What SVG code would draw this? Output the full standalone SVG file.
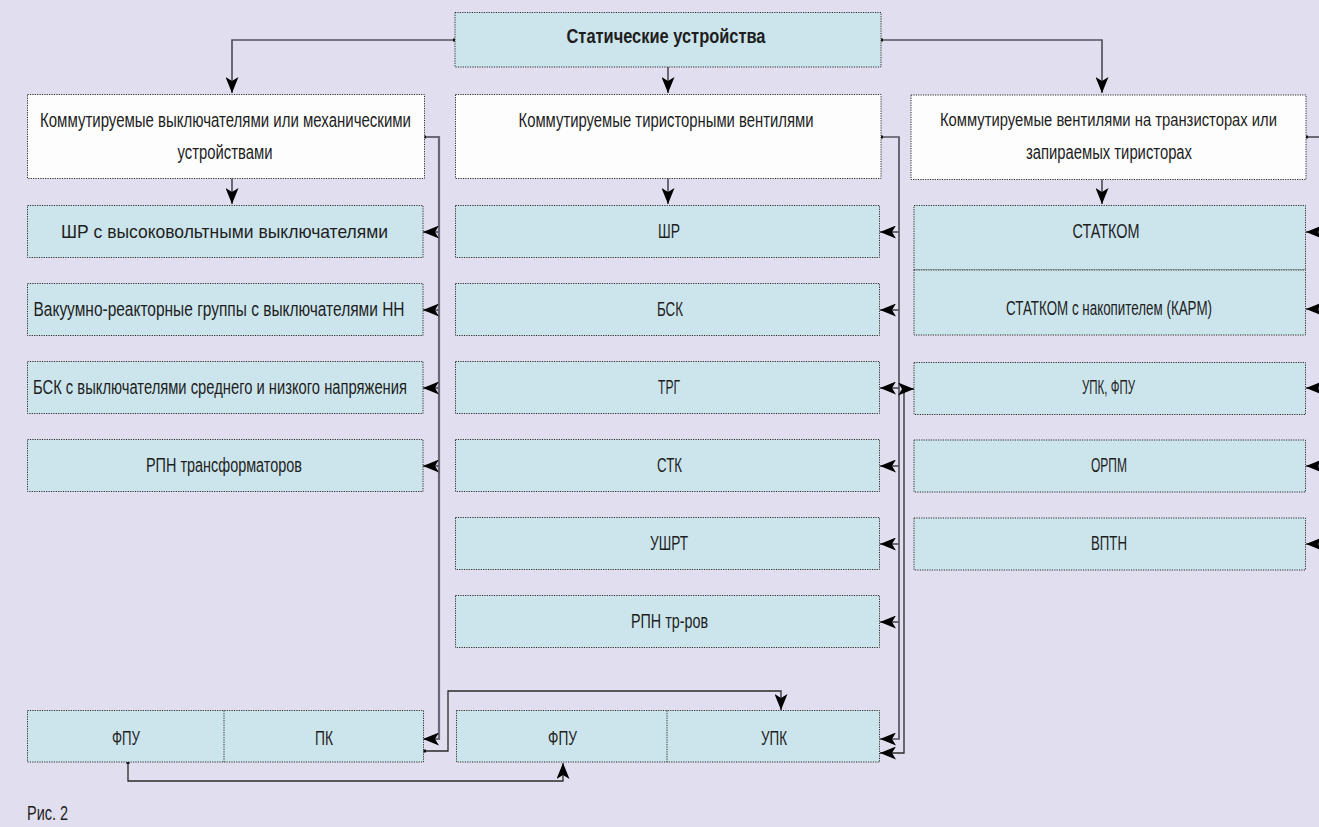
<svg xmlns="http://www.w3.org/2000/svg" width="1319" height="827" viewBox="0 0 1319 827">
<style>
.bg{fill:#e1deef}
.box{fill:#cce5ec;stroke:#2a2a2a;stroke-width:1;stroke-dasharray:1.2 1.2}
.wbox{fill:#fdfdfd;stroke:#2a2a2a;stroke-width:1;stroke-dasharray:1.2 1.2}
.div{stroke:#2a2a2a;stroke-width:1;stroke-dasharray:1.2 1.2;fill:none}
text{font-family:"Liberation Sans","DejaVu Sans",sans-serif;font-size:20px;fill:#1e1e1e;text-anchor:middle;dominant-baseline:central}
.b{font-weight:bold;font-size:21px}
.s{font-size:17.5px}
.g{fill:none;stroke:#55535f;stroke-width:1.7}
.gt{fill:none;stroke:#6a6876;stroke-width:2.2}
.k{fill:none;stroke:#2a2a2a;stroke-width:1.3}
.dot{fill:#111}
</style>
<defs>
<marker id="arr" viewBox="0 0 16 13" refX="16" refY="6.5" markerWidth="16" markerHeight="13" markerUnits="userSpaceOnUse" orient="auto-start-reverse">
<path d="M0,0 L16,6.5 L0,13 L4,6.5 z" fill="#000"/>
</marker>
</defs>
<rect class="bg" x="0" y="0" width="1319" height="827"/>

<g id="connectors">
<path class="g" d="M455,40 H232 V93" marker-end="url(#arr)"/>
<path class="g" d="M668,67 V93" marker-end="url(#arr)"/>
<path class="g" d="M881,40 H1102 V93" marker-end="url(#arr)"/>
<path class="g" d="M232,178 V204" marker-end="url(#arr)"/>
<path class="g" d="M668,178 V204" marker-end="url(#arr)"/>
<path class="g" d="M1102,179 V204" marker-end="url(#arr)"/>
<path class="gt" d="M424,137 H439 V739 H423" marker-end="url(#arr)"/>
<path class="gt" d="M439,232 H423" marker-end="url(#arr)"/>
<path class="gt" d="M439,310 H423" marker-end="url(#arr)"/>
<path class="gt" d="M439,388 H423" marker-end="url(#arr)"/>
<path class="gt" d="M439,466 H423" marker-end="url(#arr)"/>
<path class="g" d="M881,137 H899 V739 H880" marker-end="url(#arr)"/>
<path class="g" d="M899,232 H880" marker-end="url(#arr)"/>
<path class="g" d="M899,310 H880" marker-end="url(#arr)"/>
<path class="g" d="M899,388 H880" marker-end="url(#arr)"/>
<path class="g" d="M899,466 H880" marker-end="url(#arr)"/>
<path class="g" d="M899,544 H880" marker-end="url(#arr)"/>
<path class="g" d="M899,622 H880" marker-end="url(#arr)"/>
<path class="k" d="M880,753 H904 V389 H914" marker-start="url(#arr)" marker-end="url(#arr)"/>
<path class="g" d="M1306,137 H1319"/>
<path class="g" d="M1319,232 H1306" marker-end="url(#arr)"/>
<path class="g" d="M1319,309 H1306" marker-end="url(#arr)"/>
<path class="g" d="M1319,388 H1306" marker-end="url(#arr)"/>
<path class="g" d="M1319,466 H1306" marker-end="url(#arr)"/>
<path class="g" d="M1319,544 H1306" marker-end="url(#arr)"/>
<path class="k" d="M424,751 H448 V691 H781 V710" marker-end="url(#arr)"/>
<path class="k" d="M128,762 V781 H563 V763" marker-end="url(#arr)"/>
<rect class="dot" x="453" y="38.5" width="3" height="3"/>
<rect class="dot" x="880" y="38.5" width="3" height="3"/>
<rect class="dot" x="423" y="135.5" width="3" height="3"/>
<rect class="dot" x="880" y="135.5" width="3" height="3"/>
<rect class="dot" x="1305" y="135.5" width="3" height="3"/>
<rect class="dot" x="423" y="749.5" width="3" height="3"/>
<rect class="dot" x="126.5" y="761" width="3" height="3"/>
</g>

<g id="n-root">
<rect class="box" x="455" y="12.5" width="426" height="54.5"/>
<text class="b" x="666" y="35" textLength="199" lengthAdjust="spacingAndGlyphs">Статические устройства</text>
</g>

<g id="n-mech">
<rect class="wbox" x="27.5" y="94.5" width="397" height="84"/>
<text x="225.5" y="120" textLength="371" lengthAdjust="spacingAndGlyphs">Коммутируемые выключателями или механическими</text>
<text x="225" y="152" textLength="95" lengthAdjust="spacingAndGlyphs">устройствами</text>
</g>
<g id="n-thyr">
<rect class="wbox" x="455.5" y="94.5" width="425.5" height="84"/>
<text x="666" y="120" textLength="295" lengthAdjust="spacingAndGlyphs">Коммутируемые тиристорными вентилями</text>
</g>
<g id="n-trans">
<rect class="wbox" x="911" y="95" width="395" height="84.5"/>
<text class="s" x="1108.5" y="120" textLength="337" lengthAdjust="spacingAndGlyphs">Коммутируемые вентилями на транзисторах или</text>
<text x="1109" y="152" textLength="166" lengthAdjust="spacingAndGlyphs">запираемых тиристорах</text>
</g>

<g id="n-l1">
<rect class="box" x="27.5" y="205.5" width="395.5" height="52"/>
<text x="224.5" y="231" style="font-size:19px" textLength="327" lengthAdjust="spacingAndGlyphs">ШР с высоковольтными выключателями</text>
</g>
<g id="n-l2">
<rect class="box" x="27.5" y="283.5" width="395.5" height="52"/>
<text x="219" y="309" textLength="371" lengthAdjust="spacingAndGlyphs">Вакуумно-реакторные группы с выключателями НН</text>
</g>
<g id="n-l3">
<rect class="box" x="27.5" y="361.5" width="395.5" height="52"/>
<text x="220" y="387" textLength="374" lengthAdjust="spacingAndGlyphs">БСК с выключателями среднего и низкого напряжения</text>
</g>
<g id="n-l4">
<rect class="box" x="27.5" y="439.5" width="395.5" height="52"/>
<text x="224" y="465" textLength="156" lengthAdjust="spacingAndGlyphs">РПН трансформаторов</text>
</g>

<g id="n-m1">
<rect class="box" x="455.5" y="205.5" width="424" height="52"/>
<text x="669" y="231" textLength="22" lengthAdjust="spacingAndGlyphs">ШР</text>
</g>
<g id="n-m2">
<rect class="box" x="455.5" y="283.5" width="424" height="52"/>
<text x="670" y="309" textLength="26" lengthAdjust="spacingAndGlyphs">БСК</text>
</g>
<g id="n-m3">
<rect class="box" x="455.5" y="361.5" width="424" height="52"/>
<text x="669" y="387" textLength="22" lengthAdjust="spacingAndGlyphs">ТРГ</text>
</g>
<g id="n-m4">
<rect class="box" x="455.5" y="439.5" width="424" height="52"/>
<text x="669.5" y="465" textLength="25" lengthAdjust="spacingAndGlyphs">СТК</text>
</g>
<g id="n-m5">
<rect class="box" x="455.5" y="517.5" width="424" height="52"/>
<text x="669" y="543" textLength="38" lengthAdjust="spacingAndGlyphs">УШРТ</text>
</g>
<g id="n-m6">
<rect class="box" x="455.5" y="595.5" width="424" height="52"/>
<text x="669.5" y="621" textLength="77" lengthAdjust="spacingAndGlyphs">РПН тр-ров</text>
</g>

<g id="n-r1">
<rect class="box" x="914" y="205.5" width="391.5" height="64.5"/>
<text x="1106" y="231" textLength="67" lengthAdjust="spacingAndGlyphs">СТАТКОМ</text>
</g>
<g id="n-r2">
<rect class="box" x="914" y="270" width="391.5" height="65"/>
<text x="1109" y="308" textLength="206" lengthAdjust="spacingAndGlyphs">СТАТКОМ с накопителем (КАРМ)</text>
</g>
<g id="n-r3">
<rect class="box" x="914" y="362.5" width="391.5" height="52"/>
<text x="1108.5" y="387" textLength="53" lengthAdjust="spacingAndGlyphs">УПК, ФПУ</text>
</g>
<g id="n-r4">
<rect class="box" x="914" y="440" width="391.5" height="52"/>
<text x="1109" y="465" textLength="36" lengthAdjust="spacingAndGlyphs">ОРПМ</text>
</g>
<g id="n-r5">
<rect class="box" x="914" y="518" width="391.5" height="52"/>
<text x="1109" y="543" textLength="36" lengthAdjust="spacingAndGlyphs">ВПТН</text>
</g>

<g id="n-bl">
<rect class="box" x="27.5" y="710.5" width="396" height="51.5"/>
<line class="div" x1="224" y1="710.5" x2="224" y2="762"/>
<text x="126" y="738" textLength="28" lengthAdjust="spacingAndGlyphs">ФПУ</text>
<text x="324" y="738" textLength="18" lengthAdjust="spacingAndGlyphs">ПК</text>
</g>
<g id="n-bm">
<rect class="box" x="456.5" y="710.5" width="423" height="51.5"/>
<line class="div" x1="667" y1="710.5" x2="667" y2="762"/>
<text x="562.5" y="738" textLength="29" lengthAdjust="spacingAndGlyphs">ФПУ</text>
<text x="774" y="738" textLength="26" lengthAdjust="spacingAndGlyphs">УПК</text>
</g>

<text x="27" y="813" style="text-anchor:start" textLength="41" lengthAdjust="spacingAndGlyphs">Рис. 2</text>
</svg>
